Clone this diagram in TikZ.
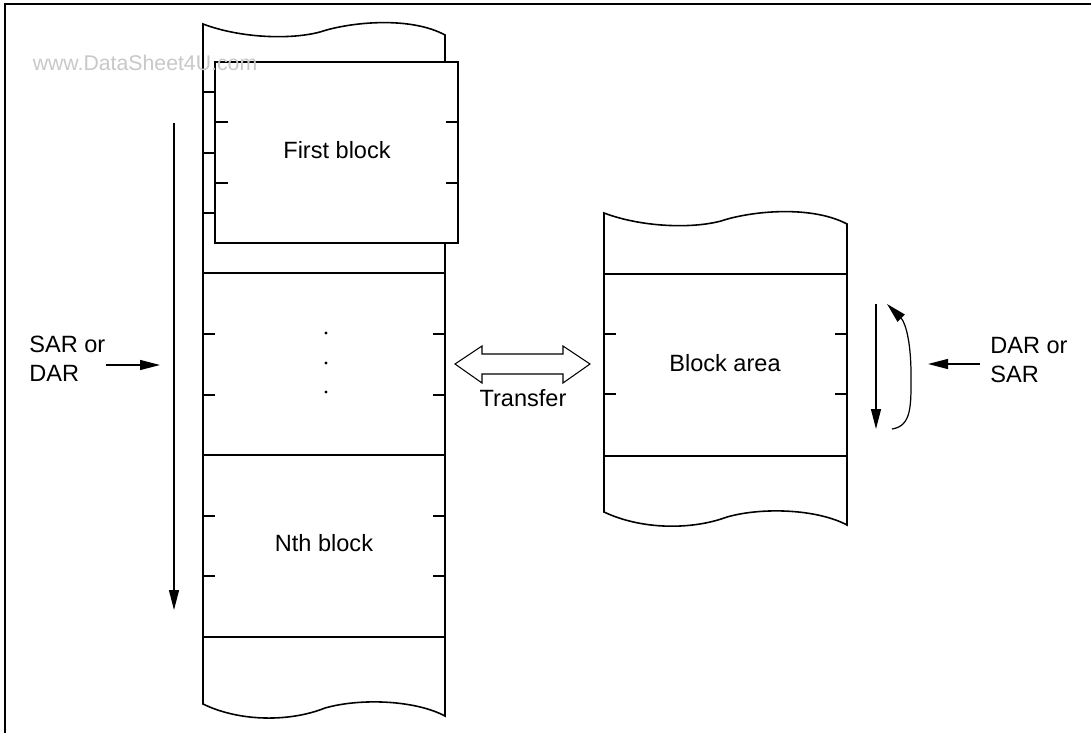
\documentclass[tikz,border=0pt]{standalone}
\usepackage{fontspec}
\setmainfont{Liberation Sans}
\usetikzlibrary{arrows.meta, positioning, calc}
\definecolor{wmgray}{RGB}{200,200,200}
\tikzset{
  edge/.style={line width=0.9pt, color=black},
  tickmark/.style={line width=0.7pt, color=black},
  arrow/.style={-{Triangle[length=0.4cm, width=0.2cm]}, line width=0.7pt},
  lbl/.style={inner sep=0pt, font=\fontsize{13.4}{16.4}\selectfont},
  wmark/.style={inner sep=0pt, text=wmgray, font=\fontsize{12.1}{14}\selectfont}
}

\begin{document}
\begin{tikzpicture}[x=0.02cm, y=-0.02cm]
  \useasboundingbox (0,0) rectangle (1091,733);
  % frame
  \draw[edge] (5,733) -- (5,4) -- (1091,4);

  % left memory column
  \draw[edge] (203,24) .. controls (240,38) and (290,40) .. (320,32)
    .. controls (350,22) and (410,16) .. (445,35) -- (445,716)
    .. controls (415,700) and (360,698) .. (325,708)
    .. controls (290,722) and (240,722) .. (203,704) -- cycle;
  \foreach \y in {273,455,637}
    \draw[edge] (203,\y) -- (445,\y);
  \foreach \y in {92,153,213}
    \draw[tickmark] (203,\y) -- (215,\y);
  \foreach \y in {334,395,516,576} {
    \draw[tickmark] (203,\y) -- (215,\y);
    \draw[tickmark] (433,\y) -- (445,\y);
  }
  \foreach \y in {333,363,392}
    \fill (326,\y) circle (1.6);

  % first block on top
  \draw[edge, fill=white] (215,62) rectangle (458,243);
  \foreach \y in {122,183} {
    \draw[tickmark] (215,\y) -- (228,\y);
    \draw[tickmark] (446,\y) -- (458,\y);
  }
  \node[lbl] (firstblk) at (337,150) {First block};
  \node[lbl] (nthblk) at (324,543) {Nth block};

  % right memory column
  \draw[edge] (604,213) .. controls (641,227) and (691,229) .. (721,221)
    .. controls (751,211) and (811,205) .. (847,224) -- (847,525)
    .. controls (817,509) and (762,507) .. (727,517)
    .. controls (692,530) and (642,530) .. (604,512) -- cycle;
  \foreach \y in {274,456}
    \draw[edge] (604,\y) -- (847,\y);
  \foreach \y in {334,394} {
    \draw[tickmark] (604,\y) -- (616,\y);
    \draw[tickmark] (835,\y) -- (847,\y);
  }
  \node[lbl] (blkarea) at (725,363) {Block area};

  % transfer
  \draw[line width=0.6pt] (455,364) -- (482,346) -- (482,354) -- (563,354)
    -- (563,346) -- (590,364) -- (563,383) -- (563,374) -- (482,374)
    -- (482,383) -- cycle;
  \node[lbl] (xferlbl) at (523,398) {Transfer};

  % address registers
  \node[lbl, anchor=west, align=left] (sarlbl) at (29,359) {SAR or\\DAR};
  \node[lbl, anchor=west, align=left] (darlbl) at (990,360) {DAR or\\SAR};
  \coordinate (sarin) at (160,365);
  \coordinate (darin) at (928,364);
  \draw[arrow] (sarlbl.east |- sarin) -- (sarin);
  \draw[arrow] ($(darlbl.west |- darin) + (-10,0)$) -- (darin);

  % scan direction
  \coordinate (scanLtop) at (174,123);
  \coordinate (scanLbot) at (174,610);
  \draw[arrow] (scanLtop) -- (scanLbot);
  \coordinate (scanRtop) at (876,304);
  \coordinate (scanRbot) at (876,429);
  \draw[arrow] (scanRtop) -- (scanRbot);
  \draw[arrow] (892,429) .. controls (912,426) and (911,405) .. (911,375)
    .. controls (911,340) and (905,322) .. (887,304);

  \node[wmark] (wm) at (145,63) {www.DataSheet4U.com};
\end{tikzpicture}
\end{document}
